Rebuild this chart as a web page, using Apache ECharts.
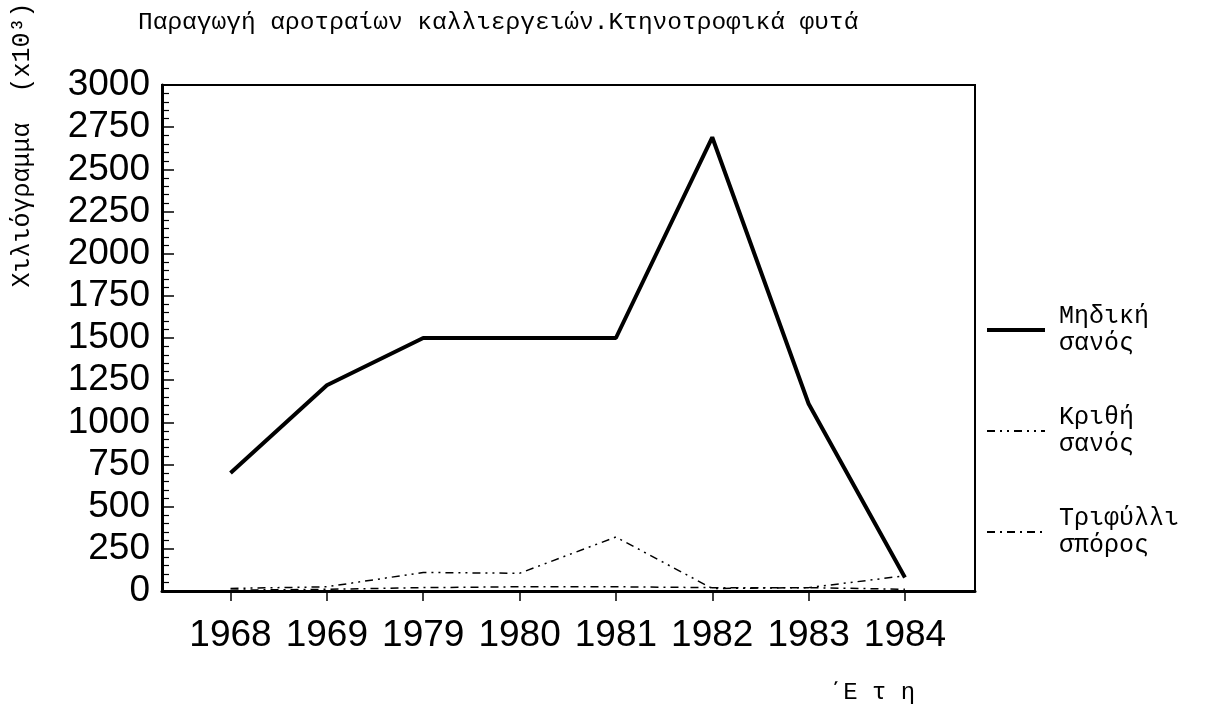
<!DOCTYPE html>
<html>
<head>
<meta charset="utf-8">
<script src="https://cdn.jsdelivr.net/npm/echarts@6/dist/echarts.min.js"></script>
<style>
  html, body { margin: 0; padding: 0; background: #fff; }
  #chart { width: 1228px; height: 713px; }
</style>
</head>
<body>
<div id="chart"></div>
<script>
// data (thousand kg)
var years = ['1968', '1969', '1979', '1980', '1981', '1982', '1983', '1984'];
var mideki = [700, 1220, 1500, 1500, 1500, 2690, 1110, 80];
var krithi = [15, 25, 110, 105, 320, 15, 20, 90];
var trifylli = [5, 10, 20, 25, 25, 20, 20, 10];
var yTicks = [0, 250, 500, 750, 1000, 1250, 1500, 1750, 2000, 2250, 2500, 2750, 3000];

var idx = years.map(function (y, i) { return i; });
function pairs(arr) {
  return arr.map(function (v, i) { return [i, v]; });
}

var mono = 'Liberation Mono';
var thin = 'Liberation Sans';

var chart = echarts.init(document.getElementById('chart'));
chart.setOption({
  animation: false,
  backgroundColor: '#fff',
  title: {
    text: 'Παραγωγή αροτραίων καλλιεργειών.Κτηνοτροφικά φυτά',
    left: 133, top: 5,
    textStyle: { fontFamily: mono, fontSize: 24.5, fontWeight: 'normal', color: '#000' }
  },
  grid: {
    left: 162, right: 253, top: 85, bottom: 122,
    show: true, borderColor: '#000', borderWidth: 2
  },
  legend: {
    orient: 'vertical',
    left: 980, top: 298,
    itemWidth: 58, itemHeight: 14,
    itemGap: 47,
    itemStyle: { opacity: 0 },
    textStyle: { fontFamily: mono, fontSize: 25, lineHeight: 27, color: '#000', padding: [0, 0, 0, 9] },
    data: [
      { name: 'Μηδική\nσανός', lineStyle: { width: 4 } },
      { name: 'Κριθή\nσανός' },
      { name: 'Τριφύλλι\nσπόρος' }
    ]
  },
  xAxis: {
    type: 'value',
    min: -0.711, max: 7.727,
    axisLine: { onZero: false, lineStyle: { color: '#000', width: 3 } },
    splitLine: { show: false },
    axisTick: { customValues: idx, length: 10, lineStyle: { color: '#000', width: 1.5 } },
    axisLabel: {
      customValues: idx,
      margin: 26,
      fontFamily: thin, fontSize: 37, color: '#000',
      formatter: function (v) { return years[Math.round(v)]; }
    }
  },
  yAxis: {
    type: 'value',
    min: 0, max: 3000, interval: 250,
    axisLine: { show: true, onZero: false, lineStyle: { color: '#000', width: 3 } },
    splitLine: { show: false },
    axisTick: { show: true, inside: true, length: 12, lineStyle: { color: '#000', width: 1.5 } },
    minorTick: { show: true, splitNumber: 5, length: 7, lineStyle: { color: '#000', width: 1.2 } },
    axisLabel: {
      margin: 12,
      fontFamily: thin, fontSize: 37, color: '#000',
      customValues: yTicks,
      formatter: function (v) { return String(v); }
    }
  },
  graphic: [
    {
      type: 'text', x: 22, y: 145, rotation: Math.PI / 2,
      style: {
        text: 'Χιλιόγραμμα  (x10³)',
        font: '25px "Liberation Mono"',
        fill: '#000', align: 'center', verticalAlign: 'middle'
      }
    },
    {
      type: 'text', x: 872, y: 693,
      style: {
        text: '΄Ε τ η',
        font: '24px "Liberation Mono"',
        fill: '#000', align: 'center', verticalAlign: 'middle'
      }
    }
  ],
  series: [
    {
      name: 'Μηδική\nσανός', type: 'line', symbol: 'none',
      data: pairs(mideki),
      lineStyle: { color: '#000', width: 4 },
      itemStyle: { color: '#000' }
    },
    {
      name: 'Κριθή\nσανός', type: 'line', symbol: 'none',
      data: pairs(krithi),
      lineStyle: { color: '#000', width: 1.5, type: [8, 5, 2, 5, 2, 5] },
      itemStyle: { color: '#000' }
    },
    {
      name: 'Τριφύλλι\nσπόρος', type: 'line', symbol: 'none',
      data: pairs(trifylli),
      lineStyle: { color: '#000', width: 1.5, type: [8, 5, 2, 5] },
      itemStyle: { color: '#000' }
    }
  ]
});
</script>
</body>
</html>
